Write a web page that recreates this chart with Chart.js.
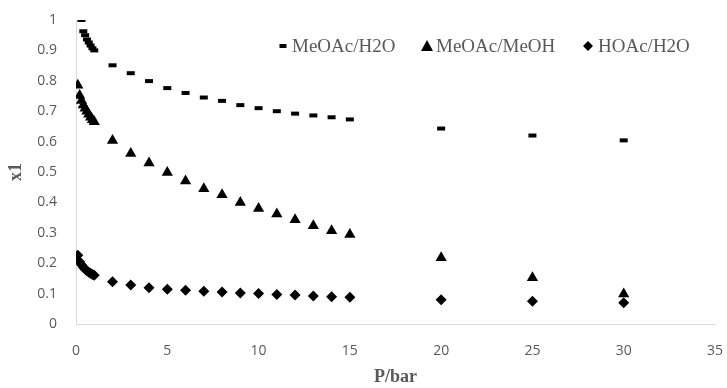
<!DOCTYPE html>
<html>
<head>
<meta charset="utf-8">
<script src="https://cdn.jsdelivr.net/npm/chart.js@4.4.0/dist/chart.umd.min.js"></script>
<style>
  body { margin: 0; background: #fff; }
  #wrap { width: 727px; height: 388px; }
</style>
</head>
<body>
<div id="wrap"><canvas id="pChart" width="727" height="388"></canvas></div>
<script>
'use strict';

// ***** data *****
const seriesNames = ['MeOAc/H2O', 'MeOAc/MeOH', 'HOAc/H2O'];

const pMeOAcH2O = [0.3, 0.4, 0.5, 0.6, 0.7, 0.8, 0.9, 1, 2, 3, 4, 5, 6, 7, 8, 9, 10, 11, 12, 13, 14, 15, 20, 25, 30];
const xMeOAcH2O = [1.0, 0.963, 0.95, 0.936, 0.926, 0.916, 0.907, 0.9, 0.851, 0.825, 0.799, 0.776, 0.76, 0.745, 0.734, 0.72, 0.71, 0.70, 0.692, 0.686, 0.68, 0.673, 0.643, 0.62, 0.604];

const pMeOAcMeOH = [0.1, 0.2, 0.3, 0.4, 0.5, 0.6, 0.7, 0.8, 0.9, 1, 2, 3, 4, 5, 6, 7, 8, 9, 10, 11, 12, 13, 14, 15, 20, 25, 30];
const xMeOAcMeOH = [0.785, 0.752, 0.735, 0.72, 0.71, 0.70, 0.69, 0.68, 0.672, 0.665, 0.604, 0.561, 0.53, 0.498, 0.47, 0.445, 0.425, 0.40, 0.38, 0.362, 0.343, 0.323, 0.307, 0.294, 0.218, 0.152, 0.099];

const pHOAcH2O = [0.1, 0.2, 0.3, 0.4, 0.5, 0.6, 0.7, 0.8, 0.9, 1, 2, 3, 4, 5, 6, 7, 8, 9, 10, 11, 12, 13, 14, 15, 20, 25, 30];
const xHOAcH2O = [0.226, 0.205, 0.195, 0.187, 0.18, 0.175, 0.17, 0.167, 0.163, 0.16, 0.139, 0.128, 0.119, 0.114, 0.111, 0.108, 0.105, 0.102, 0.10, 0.097, 0.095, 0.092, 0.09, 0.088, 0.08, 0.075, 0.07];

function toPoints(xs, ys) {
  return xs.map((x, i) => ({x: x, y: ys[i]}));
}

// ***** legend drawn inside the plot area *****
const innerLegend = {
  id: 'innerLegend',
  afterDraw(chart) {
    const ctx = chart.ctx;
    const items = [
      {mark: 'dash', mx: 283, tx: 292, text: seriesNames[0]},
      {mark: 'tri', mx: 427, tx: 436, text: seriesNames[1]},
      {mark: 'dia', mx: 588, tx: 598, text: seriesNames[2]}
    ];
    const y = 46;
    ctx.save();
    ctx.fillStyle = '#000';
    items.forEach(function(it){
      ctx.beginPath();
      if (it.mark === 'dash') {
        ctx.rect(it.mx - 3.5, y - 2, 7, 4);
      } else if (it.mark === 'tri') {
        ctx.moveTo(it.mx, y - 6);
        ctx.lineTo(it.mx + 6, y + 5);
        ctx.lineTo(it.mx - 6, y + 5);
      } else {
        ctx.moveTo(it.mx, y - 5);
        ctx.lineTo(it.mx + 5, y);
        ctx.lineTo(it.mx, y + 5);
        ctx.lineTo(it.mx - 5, y);
      }
      ctx.closePath();
      ctx.fill();
    });
    ctx.fillStyle = '#595959';
    ctx.font = '19px "Liberation Serif", serif';
    ctx.textBaseline = 'middle';
    items.forEach(function(it){
      ctx.fillText(it.text, it.tx, y + 1);
    });
    ctx.restore();
  }
};

let context = document.getElementById('pChart').getContext('2d');

new Chart(context, {
  type: 'scatter',
  data: {
    datasets: [
      {
        label: seriesNames[0],
        data: toPoints(pMeOAcH2O, xMeOAcH2O),
        pointStyle: 'line',
        radius: 4,
        borderWidth: 4,
        borderColor: '#000',
        backgroundColor: '#000'
      },
      {
        label: seriesNames[1],
        data: toPoints(pMeOAcMeOH, xMeOAcMeOH),
        pointStyle: 'triangle',
        radius: 6.5,
        borderWidth: 0,
        borderColor: '#000',
        backgroundColor: '#000'
      },
      {
        label: seriesNames[2],
        data: toPoints(pHOAcH2O, xHOAcH2O),
        pointStyle: 'rectRot',
        radius: 5.5,
        borderWidth: 0,
        borderColor: '#000',
        backgroundColor: '#000'
      }
    ]
  },
  options: {
    responsive: false,
    animation: false,
    layout: {
      padding: {top: 20, right: 12, bottom: 0, left: 0}
    },
    scales: {
      x: {
        type: 'linear',
        min: 0,
        max: 35,
        afterFit: function(s){
          s.height = 64;
          s.paddingLeft = 0;
          s.paddingRight = 0;
        },
        ticks: {
          stepSize: 5,
          padding: 19,
          maxRotation: 0,
          color: '#595959',
          font: {family: '"Open Sans", sans-serif', size: 14}
        },
        grid: {display: false, drawTicks: false},
        border: {display: true, color: '#d9d9d9', width: 1},
        title: {
          display: true,
          text: 'P/bar',
          color: '#595959',
          padding: {top: 0, bottom: 0},
          font: {family: '"Liberation Serif", serif', size: 18, weight: 'bold'}
        }
      },
      y: {
        type: 'linear',
        min: 0,
        max: 1,
        afterFit: function(s){
          s.width = 76;
          s.paddingTop = 0;
          s.paddingBottom = 0;
        },
        ticks: {
          stepSize: 0.1,
          padding: 19,
          color: '#595959',
          font: {family: '"Open Sans", sans-serif', size: 14},
          callback: function(value){
            return String(Math.round(value * 10) / 10);
          }
        },
        grid: {display: false, drawTicks: false},
        border: {display: true, color: '#d9d9d9', width: 1},
        title: {
          display: true,
          text: 'x1',
          color: '#595959',
          padding: {top: 6, bottom: 0},
          font: {family: '"Liberation Serif", serif', size: 18, weight: 'bold'}
        }
      }
    },
    plugins: {
      legend: {display: false},
      tooltip: {enabled: false}
    }
  },
  plugins: [innerLegend]
});
</script>
</body>
</html>
